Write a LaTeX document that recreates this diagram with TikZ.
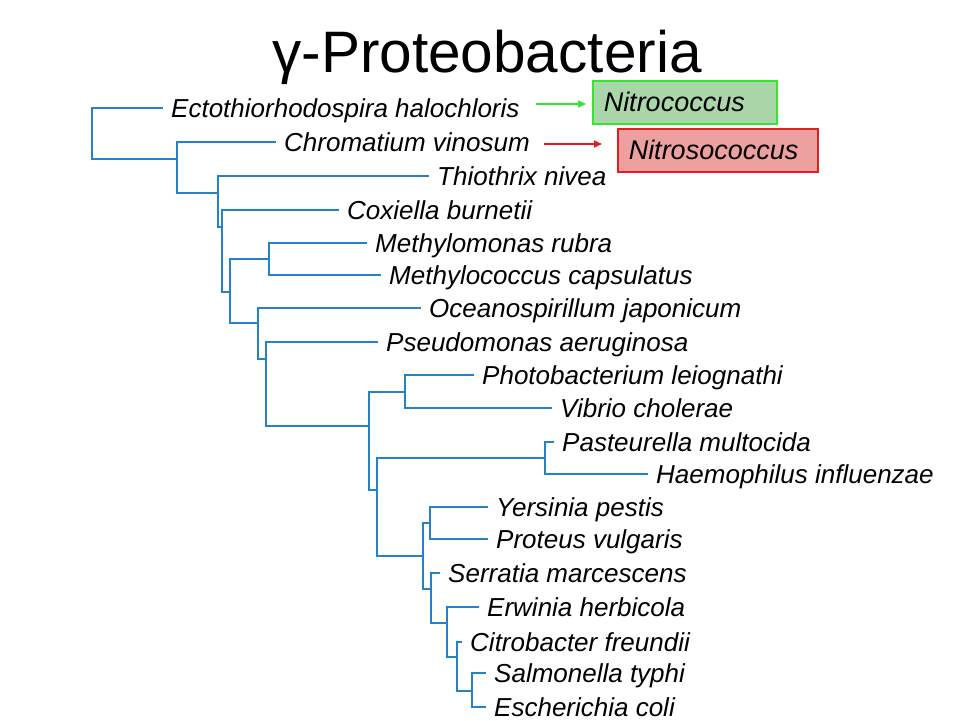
\documentclass[tikz,border=0pt]{standalone}
\usepackage{fontspec}
\setmainfont{Liberation Sans}
\usetikzlibrary{arrows.meta}
\definecolor{treeblue}{RGB}{35,130,200}
\definecolor{gbord}{RGB}{50,230,50}
\definecolor{gfill}{RGB}{170,214,170}
\definecolor{rbord}{RGB}{228,30,30}
\definecolor{rfill}{RGB}{236,160,160}
\begin{document}
\begin{tikzpicture}[x=1pt,y=-1pt,
  leaf/.style={anchor=west,inner xsep=9pt,inner ysep=0pt,text height=18pt,text depth=0pt,
     font=\fontsize{26}{30}\selectfont\itshape},
  branch/.style={draw=treeblue,line width=2pt,line cap=rect,line join=miter},
  genus/.style={anchor=north west,inner xsep=11pt,inner ysep=0pt,minimum height=43pt,
     text height=19pt,text depth=0pt,align=left,line width=1.5pt,
     font=\fontsize{27}{30}\selectfont\itshape},
  pointer/.style={line width=2pt,-{Triangle[length=8pt,width=7pt]}}]
\useasboundingbox (0,0) rectangle (960,720);
\node[font=\fontsize{58.5}{62}\selectfont,anchor=base] (title) at (487,72) {γ-Proteobacteria};
% leaves
\node[leaf] (l1) at (162,108) {Ectothiorhodospira halochloris};
\node[leaf] (l2) at (275,142) {Chromatium vinosum};
\node[leaf] (l3) at (428,176) {Thiothrix nivea};
\node[leaf] (l4) at (338,210) {Coxiella burnetii};
\node[leaf] (l5) at (366,243) {Methylomonas rubra};
\node[leaf] (l6) at (380,275) {Methylococcus capsulatus};
\node[leaf] (l7) at (420,308) {Oceanospirillum japonicum};
\node[leaf] (l8) at (377,342) {Pseudomonas aeruginosa};
\node[leaf] (l9) at (473,375) {Photobacterium leiognathi};
\node[leaf] (l10) at (551,408) {Vibrio cholerae};
\node[leaf] (l11) at (553,442) {Pasteurella multocida};
\node[leaf] (l12) at (647,474) {Haemophilus influenzae};
\node[leaf] (l13) at (487,507) {Yersinia pestis};
\node[leaf] (l14) at (487,539) {Proteus vulgaris};
\node[leaf] (l15) at (439,573) {Serratia marcescens};
\node[leaf] (l16) at (478,607) {Erwinia herbicola};
\node[leaf] (l17) at (461,642) {Citrobacter freundii};
\node[leaf] (l18) at (485,673) {Salmonella typhi};
\node[leaf] (l19) at (485,707) {Escherichia coli};
% internal nodes
\coordinate (r) at (92,133);
\coordinate (A) at (177,159);
\coordinate (B) at (218,193);
\coordinate (C) at (222,227);
\coordinate (D) at (230,292);
\coordinate (E) at (269,259);
\coordinate (F) at (258,323);
\coordinate (G) at (266,359);
\coordinate (H) at (369,426);
\coordinate (I) at (405,392);
\coordinate (J) at (377,490);
\coordinate (K) at (545,458);
\coordinate (L) at (423,556);
\coordinate (M) at (430,523);
\coordinate (N) at (431,589);
\coordinate (O) at (447,623);
\coordinate (P) at (457,657);
\coordinate (Q) at (472,691);
% branches
\draw[branch] (l1.west) -| (r) |- (A);
\draw[branch] (l2.west) -| (A) |- (B);
\draw[branch] (l3.west) -| (B) |- (C);
\draw[branch] (l4.west) -| (C) |- (D);
\draw[branch] (E) -| (D) |- (F);
\draw[branch] (l5.west) -| (E) |- (l6.west);
\draw[branch] (l7.west) -| (F) |- (G);
\draw[branch] (l8.west) -| (G) |- (H);
\draw[branch] (I) -| (H) |- (J);
\draw[branch] (l9.west) -| (I) |- (l10.west);
\draw[branch] (K) -| (J) |- (L);
\draw[branch] (l11.west) -| (K) |- (l12.west);
\draw[branch] (M) -| (L) |- (N);
\draw[branch] (l13.west) -| (M) |- (l14.west);
\draw[branch] (l15.west) -| (N) |- (O);
\draw[branch] (l16.west) -| (O) |- (P);
\draw[branch] (l17.west) -| (P) |- (Q);
\draw[branch] (l18.west) -| (Q) |- (l19.west);
% genus boxes
\node[genus,draw=gbord,fill=gfill,text width=162pt] (nc) at (592,80) {Nitrococcus};
\node[genus,draw=rbord,fill=rfill,text width=178pt] (nsc) at (617,128) {Nitrosococcus};
\coordinate (gs) at (536,104);
\coordinate (ge) at (586,104);
\coordinate (rs) at (544,144);
\coordinate (re) at (602,144);
\draw[pointer,draw=gbord,fill=gbord] (gs) -- (ge);
\draw[pointer,draw=rbord,fill=rbord] (rs) -- (re);
\end{tikzpicture}
\end{document}
